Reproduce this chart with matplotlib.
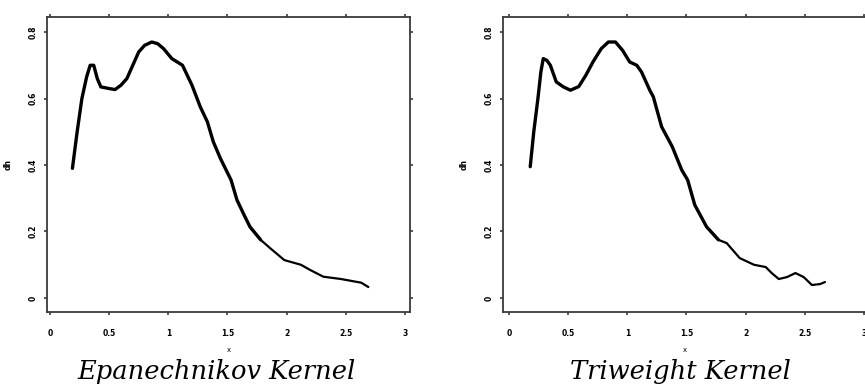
import matplotlib.pyplot as plt

# Epanechnikov kernel estimate
epa_x = [0.19, 0.23, 0.27, 0.31, 0.34, 0.37, 0.40, 0.43, 0.50, 0.55, 0.60, 0.65,
         0.70, 0.75, 0.80, 0.86, 0.91, 0.96, 1.03, 1.12, 1.20, 1.27, 1.33, 1.38,
         1.44, 1.53, 1.58, 1.64, 1.69, 1.78, 1.86, 1.98, 2.12, 2.20, 2.31, 2.46,
         2.63, 2.69]
epa_y = [0.39, 0.50, 0.60, 0.665, 0.70, 0.70, 0.66, 0.635, 0.63, 0.627, 0.64, 0.66,
         0.70, 0.74, 0.76, 0.77, 0.765, 0.75, 0.72, 0.70, 0.64, 0.575, 0.53, 0.47,
         0.42, 0.355, 0.295, 0.25, 0.214, 0.175, 0.15, 0.114, 0.10, 0.084, 0.064, 0.057,
         0.046, 0.033]

# Triweight kernel estimate
tri_x = [0.18, 0.21, 0.245, 0.27, 0.29, 0.32, 0.35, 0.40, 0.46, 0.52, 0.59, 0.65,
         0.71, 0.78, 0.84, 0.90, 0.96, 1.02, 1.08, 1.12, 1.19, 1.22, 1.29, 1.38,
         1.46, 1.51, 1.57, 1.67, 1.77, 1.84, 1.95, 2.07, 2.17, 2.22, 2.28, 2.35,
         2.42, 2.49, 2.56, 2.63, 2.67]
tri_y = [0.395, 0.50, 0.60, 0.68, 0.72, 0.715, 0.70, 0.65, 0.635, 0.625, 0.636, 0.67,
         0.71, 0.75, 0.77, 0.77, 0.745, 0.71, 0.70, 0.68, 0.625, 0.605, 0.515, 0.455,
         0.385, 0.355, 0.28, 0.214, 0.175, 0.165, 0.12, 0.10, 0.093, 0.075, 0.057, 0.063,
         0.075, 0.063, 0.039, 0.042, 0.048]

x_ticks = [0, 0.5, 1, 1.5, 2, 2.5, 3]
x_labels = ['0', '0.5', '1', '1.5', '2', '2.5', '3']
y_ticks = [0, 0.2, 0.4, 0.6, 0.8]
y_labels = ['0', '0.2', '0.4', '0.6', '0.8']
captions = ['Epanechnikov Kernel', 'Triweight Kernel']

fig = plt.figure(figsize=(8.65, 3.88), dpi=100)
frame_col = '#3a3a3a'


def draw_panel(rect, xs, ys, xlim, caption, cap_x):
    ax = fig.add_axes(rect)
    # thick in the body, thinner in the tail
    head = [i for i, v in enumerate(xs) if v <= 1.78]
    tail = [i for i, v in enumerate(xs) if v >= 1.66]
    ax.plot([xs[i] for i in head], [ys[i] for i in head], color='black', lw=2.4,
            solid_capstyle='round', solid_joinstyle='round')
    ax.plot([xs[i] for i in tail], [ys[i] for i in tail], color='black', lw=1.6,
            solid_capstyle='round', solid_joinstyle='round')
    ax.set_xlim(*xlim)
    ax.set_ylim(-0.042, 0.845)
    ax.set_xticks(x_ticks)
    ax.set_xticklabels(x_labels)
    ax.set_yticks(y_ticks)
    ax.set_yticklabels(y_labels, rotation=90, va='center')
    ax.tick_params(direction='out', length=2.5, width=1.2, color=frame_col,
                   top=True, right=True, labelsize=5.5)
    ax.tick_params(axis='x', pad=10)
    ax.tick_params(axis='y', pad=4)
    for lab in ax.get_xticklabels() + ax.get_yticklabels():
        lab.set_fontweight('bold')
    for sp in ax.spines.values():
        sp.set_color(frame_col)
        sp.set_linewidth(1.3)
    ax.set_xlabel('x', fontsize=5, labelpad=6)
    ax.set_ylabel('dh', fontsize=5.5, fontweight='bold', labelpad=12)
    fig.text(cap_x, 0.022, caption, ha='center', va='baseline',
             family='DejaVu Serif', style='italic', fontsize=18.5)
    return ax


draw_panel([0.0543, 0.196, 0.4197, 0.760], epa_x, epa_y, (-0.025, 3.042),
           captions[0], 217 / 865)
draw_panel([0.5815, 0.196, 0.4197, 0.760], tri_x, tri_y, (-0.05, 3.017),
           captions[1], 680 / 865)

fig.savefig('out.png', dpi=100)
